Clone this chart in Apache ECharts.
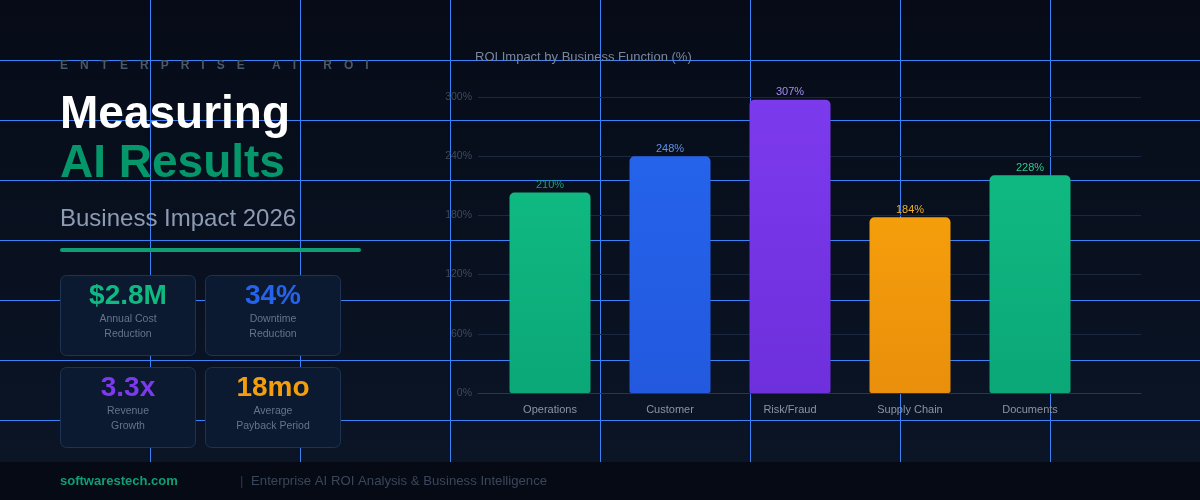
<!DOCTYPE html>
<html>
<head>
<meta charset="utf-8">
<script src="https://cdn.jsdelivr.net/npm/echarts@6/dist/echarts.min.js"></script>
<style>
html, body { margin: 0; padding: 0; background: #070d1a; }
#chart { width: 1200px; height: 500px; }
</style>
</head>
<body>
<div id="chart"></div>
<script>
const categories = ['Operations', 'Customer', 'Risk/Fraud', 'Supply Chain', 'Documents'];
const roiValues = [210, 248, 307, 184, 228];
const statValues = ['$2.8M', '34%', '3.3x', '18mo'];
const statLabels = [['Annual Cost', 'Reduction'], ['Downtime', 'Reduction'], ['Revenue', 'Growth'], ['Average', 'Payback Period']];

const barColors = [['#10b981', '#0ba777'], ['#2563eb', '#2259df'], ['#7c3aed', '#6e2fdc'], ['#f59e0b', '#e98f0b'], ['#10b981', '#0ba777']];
const labelColors = ['#12a173', '#5d93ee', '#a08cf0', '#eeb024', '#35c48f'];
const statColors = ['#10b981', '#2563eb', '#7c3aed', '#f59e0b'];

const FONT = '"Liberation Sans", Arial, Helvetica, sans-serif';

const text = (x, y, str, o) => ({
    type: 'text',
    z: 6,
    x,
    y,
    style: {
        text: str,
        fill: o.color,
        fontSize: o.size,
        fontWeight: o.weight || 'normal',
        fontFamily: FONT,
        align: o.align || 'left',
        textAlign: o.align || 'left',
        verticalAlign: 'middle',
        textVerticalAlign: 'middle',
    },
});

const graphics = [];

// page background + footer band
graphics.push({
    type: 'rect', z: -10,
    shape: {x: 0, y: 0, width: 1200, height: 462},
    style: {fill: new echarts.graphic.LinearGradient(0, 0, 0, 1, [
        {offset: 0, color: '#060b17'},
        {offset: 1, color: '#0b1526'},
    ])},
});
graphics.push({type: 'rect', z: -10, shape: {x: 0, y: 462, width: 1200, height: 38}, style: {fill: '#050a15'}});

// blue guide lines
for (let x = 150; x < 1200; x += 150) {
    graphics.push({type: 'line', z: -9, shape: {x1: x + 0.5, y1: 0, x2: x + 0.5, y2: 462}, style: {stroke: '#3b82f6', lineWidth: 1}});
}
for (let y = 60; y < 462; y += 60) {
    graphics.push({type: 'line', z: -9, shape: {x1: 0, y1: y + 0.5, x2: 1200, y2: y + 0.5}, style: {stroke: '#3b82f6', lineWidth: 1}});
}

// letter-spaced kicker
const ctx = document.createElement('canvas').getContext('2d');
ctx.font = 'bold 12px ' + FONT;
let cx = 60;
for (const ch of 'ENTERPRISE AI ROI') {
    if (ch !== ' ') {
        graphics.push(text(cx, 66, ch, {color: '#4a586c', size: 12, weight: 'bold'}));
    }
    cx += ctx.measureText(ch).width + 12;
}

graphics.push(text(60, 115, 'Measuring', {color: '#ffffff', size: 46, weight: 'bold'}));
graphics.push(text(60, 164, 'AI Results', {color: '#059669', size: 46, weight: 'bold'}));
graphics.push(text(60, 219, 'Business Impact 2026', {color: '#8d9bb3', size: 24}));
graphics.push({
    type: 'line', z: 5,
    shape: {x1: 62, y1: 250, x2: 359, y2: 250},
    style: {stroke: '#0f9f73', lineWidth: 4, lineCap: 'round'},
});

// stat cards
statValues.forEach((v, i) => {
    const left = 60.5 + (i % 2) * 145;
    const top = 275.5 + Math.floor(i / 2) * 92;
    const mid = left + 67.5;
    graphics.push({
        type: 'rect', z: 5,
        shape: {x: left, y: top, width: 135, height: 80, r: 6},
        style: {fill: '#0b1a31', stroke: '#1c3354', lineWidth: 1},
    });
    graphics.push(text(mid, top + 21, v, {color: statColors[i], size: 28, weight: 'bold', align: 'center'}));
    graphics.push(text(mid, top + 44, statLabels[i][0], {color: '#64748b', size: 10.5, align: 'center'}));
    graphics.push(text(mid, top + 59, statLabels[i][1], {color: '#64748b', size: 10.5, align: 'center'}));
});

// chart title
graphics.push(text(475, 57, 'ROI Impact by Business Function (%)', {color: '#7a869a', size: 13}));

// footer
graphics.push(text(60, 481, 'softwarestech.com', {color: '#0f9f73', size: 13, weight: 'bold'}));
graphics.push(text(240, 481, '|', {color: '#2a3a50', size: 13}));
graphics.push(text(251, 481, 'Enterprise AI ROI Analysis & Business Intelligence', {color: '#3a475b', size: 13.2}));

const chart = echarts.init(document.getElementById('chart'));

chart.setOption({
    animation: false,
    textStyle: {fontFamily: FONT},
    graphic: {elements: graphics},
    grid: [
        {left: 478, right: 59, top: 97, bottom: 107, containLabel: false, outerBoundsMode: 'none'},
        {left: 490, right: 110, top: 97, bottom: 107, containLabel: false, outerBoundsMode: 'none'},
    ],
    xAxis: [
        {
            gridIndex: 0,
            type: 'category',
            data: categories,
            axisLine: {lineStyle: {color: '#2a3649'}},
            axisTick: {show: false},
            axisLabel: {show: false},
            splitLine: {show: false},
        },
        {
            gridIndex: 1,
            type: 'category',
            data: categories,
            axisLine: {show: false},
            axisTick: {show: false},
            splitLine: {show: false},
            axisLabel: {color: '#8a94a6', fontSize: 11, margin: 11, fontFamily: FONT},
        },
    ],
    yAxis: [
        {
            gridIndex: 0,
            type: 'value',
            min: 0,
            max: 300,
            interval: 60,
            axisLine: {show: false},
            axisTick: {show: false},
            axisLabel: {formatter: '{value}%', color: '#3d4a5d', fontSize: 10.5, margin: 6, fontFamily: FONT},
            splitLine: {lineStyle: {color: '#1b2940', width: 1}},
        },
        {gridIndex: 1, type: 'value', min: 0, max: 310, show: false},
    ],
    series: [
        {
            type: 'bar',
            xAxisIndex: 1,
            yAxisIndex: 1,
            barWidth: 81,
            data: roiValues.map((v, i) => ({
                value: v,
                itemStyle: {
                    borderRadius: [5, 5, 2, 2],
                    color: new echarts.graphic.LinearGradient(0, 0, 0, 1, [
                        {offset: 0, color: barColors[i][0]},
                        {offset: 1, color: barColors[i][1]},
                    ]),
                },
                label: {color: labelColors[i]},
            })),
            label: {show: true, position: 'top', distance: 2, formatter: '{c}%', fontSize: 11, fontFamily: FONT},
        },
    ],
});
</script>
</body>
</html>
